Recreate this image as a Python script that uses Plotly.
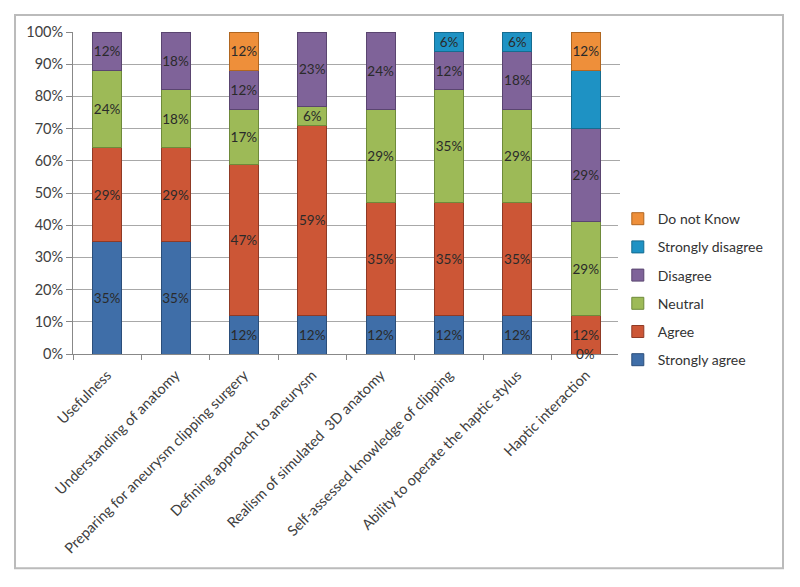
import plotly.graph_objects as go

categories = [
    "Usefulness",
    "Understanding of anatomy",
    "Preparing for aneurysm clipping surgery",
    "Defining approach to aneurysm",
    "Realism of simulated  3D anatomy",
    "Self-assessed knowledge of clipping",
    "Ability to operate the haptic stylus",
    "Haptic interaction",
]

strongly_agree = [35, 35, 12, 12, 12, 12, 12, 0]
agree = [29, 29, 47, 59, 35, 35, 35, 12]
neutral = [24, 18, 17, 6, 29, 35, 29, 29]
disagree = [12, 18, 12, 23, 24, 12, 18, 29]
strongly_disagree = [0, 0, 0, 0, 0, 6, 6, 18]
do_not_know = [0, 0, 12, 0, 0, 0, 0, 12]

series_names = ["Strongly agree", "Agree", "Neutral", "Disagree", "Strongly disagree", "Do not Know"]
series_values = [strongly_agree, agree, neutral, disagree, strongly_disagree, do_not_know]
colors = ["#3F6EA8", "#CC5636", "#9DBA57", "#7F6399", "#1E92C4", "#EE8F3A"]
edge_colors = ["#2B4E7A", "#8F3A25", "#6E8A3A", "#5A4570", "#156C90", "#B06620"]

# labels not shown in the original chart
hidden_labels = {("Strongly disagree", "Haptic interaction")}

FONT = "Lato, 'Open Sans', sans-serif"

fig = go.Figure()
n = len(series_names)
for i, (name, vals, c, ec) in enumerate(zip(series_names, series_values, colors, edge_colors)):
    texts = []
    for cat, v in zip(categories, vals):
        if v > 0 and (name, cat) not in hidden_labels:
            texts.append(f"{v}%")
        else:
            texts.append("")
    fig.add_trace(go.Bar(
        x=categories, y=[v / 100 if v else None for v in vals], name=name,
        legendgroup=name, legendrank=n - i,
        marker=dict(color=c, line=dict(color=ec, width=1)),
        text=texts, textposition="inside", insidetextanchor="middle",
        textangle=0, constraintext="none",
        textfont=dict(family=FONT, size=13.5, color="#2A2A2A"),
        hoverinfo="x+y+name",
    ))

# zero-valued segment label shown in the original (Strongly agree, Haptic interaction)
for cat, v in zip(categories, strongly_agree):
    if v == 0:
        fig.add_annotation(x=cat, y=0, text=f"{v}%", showarrow=False,
                           yanchor="middle", xanchor="center",
                           font=dict(family=FONT, size=13.5, color="#2A2A2A"))

fig.add_shape(type="rect", xref="paper", yref="paper",
              x0=-0.106, x1=1.298, y0=-0.665, y1=1.053,
              line=dict(color="#BBBBBB", width=2), layer="below")

fig.update_layout(
    width=800, height=587,
    margin=dict(l=73, r=180, t=32, b=233),
    paper_bgcolor="white", plot_bgcolor="white",
    barmode="stack", bargap=0.576,
    font=dict(family=FONT, size=12, color="#404040"),
    uniformtext=dict(minsize=12, mode="show"),
    showlegend=True,
    legend=dict(
        x=0.996, xanchor="left", y=0.2, yanchor="middle",
        traceorder="grouped", tracegroupgap=7,
        font=dict(family=FONT, size=14, color="#333333"),
        itemwidth=30,
    ),
    xaxis=dict(
        automargin=False,
        tickangle=-45, showline=True, linecolor="#888888", linewidth=1,
        ticks="outside", ticklen=5, tickcolor="#888888", tickson="boundaries",
        ticklabelstandoff=6,
        tickfont=dict(family=FONT, size=14.5, color="#404040"),
        showgrid=False,
    ),
    yaxis=dict(
        automargin=False,
        range=[0, 1], tickformat=".0%", dtick=0.1,
        showline=True, linecolor="#888888", linewidth=1,
        ticks="outside", ticklen=6, tickcolor="#888888",
        showgrid=True, gridcolor="#A8A8A8", gridwidth=1,
        tickfont=dict(family=FONT, size=14.5, color="#404040"),
        zeroline=False,
    ),
)

fig.write_html("out.html", config={"displayModeBar": False},
               post_script="document.body.style.margin='0';")
